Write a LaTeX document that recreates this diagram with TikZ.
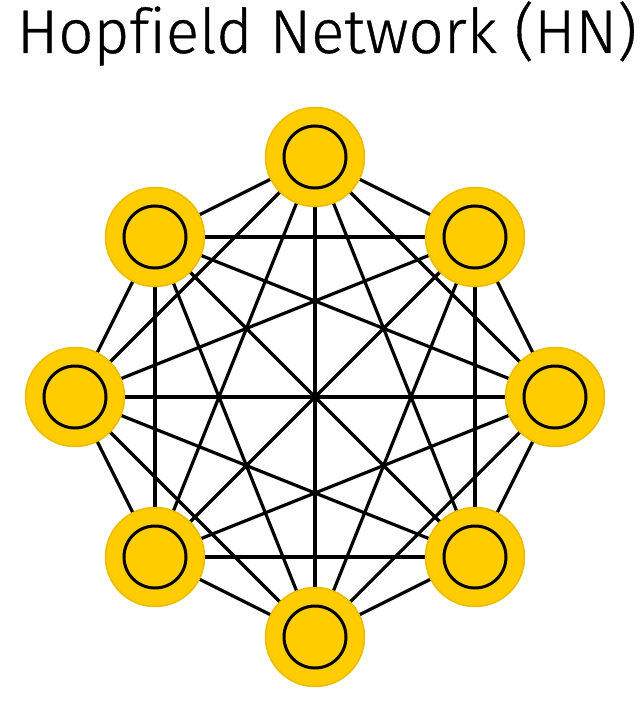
\documentclass[tikz,border=0pt]{standalone}
\usepackage{fontspec}
\setmainfont[Ligatures=NoCommon]{Fira Sans Light}
\definecolor{nodeyellow}{HTML}{FFCC00}
\definecolor{rimyellow}{HTML}{E9BC00}
\begin{document}
\begin{tikzpicture}[x=1bp,y=-1bp,
  neuron/.style={circle,fill=nodeyellow,draw=rimyellow,line width=1.5bp,minimum size=99bp,inner sep=0pt},
  core/.style={circle,fill=nodeyellow,draw=black,line width=3bp,minimum size=62bp,inner sep=0pt},
  link/.style={draw=black,line width=3.2bp}]
\useasboundingbox (0,0) rectangle (642,702);
\node[anchor=base,font=\fontsize{62}{64}\selectfont\addfontfeatures{FakeBold=0.6}] (title) at (327,53) {Hopfield Network (HN)};
\coordinate (n1) at (315,157);
\coordinate (n2) at (475,237);
\coordinate (n3) at (555,397);
\coordinate (n4) at (475,557);
\coordinate (n5) at (315,637);
\coordinate (n6) at (155,557);
\coordinate (n7) at (75,397);
\coordinate (n8) at (155,237);
\foreach \i in {1,...,8}{
  \foreach \j in {1,...,8}{
    \ifnum\i<\j \draw[link] (n\i) -- (n\j); \fi
  }
}
\foreach \i in {1,...,8}{
  \node[neuron] (o\i) at (n\i) {};
  \node[core] (c\i) at (n\i) {};
}
\end{tikzpicture}
\end{document}
